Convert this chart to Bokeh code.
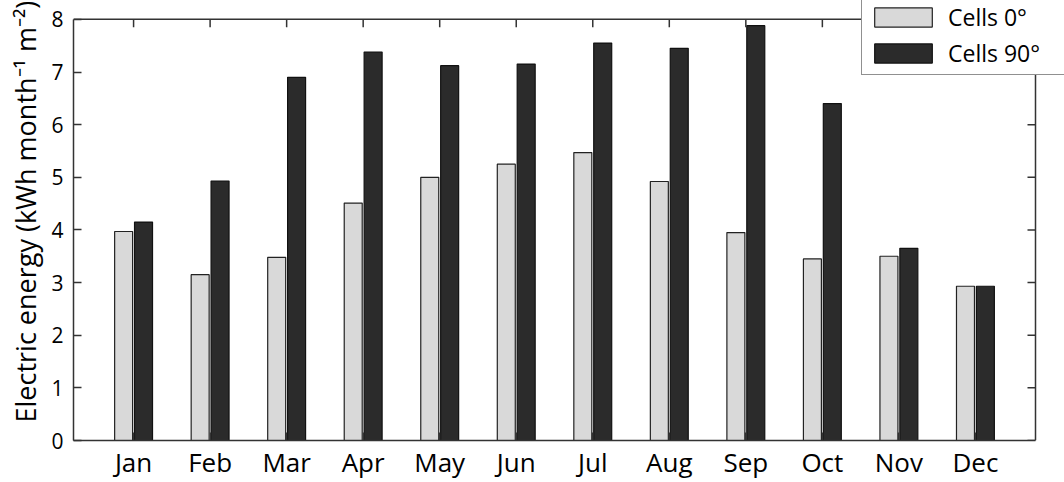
from bokeh.plotting import figure
from bokeh.models import (ColumnDataSource, Range1d, LinearAxis, FixedTicker,
                          Legend, LegendItem, Title, Span)
from bokeh.transform import dodge
from bokeh.embed import file_html
from bokeh.resources import INLINE

months = ["Jan", "Feb", "Mar", "Apr", "May", "Jun",
          "Jul", "Aug", "Sep", "Oct", "Nov", "Dec"]
month_idx = list(range(1, 13))
cells_0 = [3.97, 3.15, 3.48, 4.51, 5.00, 5.25, 5.47, 4.92, 3.95, 3.45, 3.50, 2.93]
cells_90 = [4.15, 4.93, 6.90, 7.38, 7.12, 7.15, 7.55, 7.45, 7.88, 6.40, 3.65, 2.93]
y_ticks = [0, 1, 2, 3, 4, 5, 6, 7, 8]

FONT = "Open Sans"
AX = "#333333"

# axes box (data limits) and plot geometry
X_LO, X_HI = 0.215, 12.785
Y_LO, Y_HI = 0, 8
W, H = 1064, 482
LEFT, BOTTOM = 73, 39
BOX_TOP_PX = 19          # top edge of the axes box, from canvas top
BOX_RIGHT_PX = 29        # right edge of the axes box, from canvas right
frame_w = W - LEFT
frame_h = H - BOTTOM
px_per_x = (frame_w - BOX_RIGHT_PX) / (X_HI - X_LO)
px_per_y = (frame_h - BOX_TOP_PX) / (Y_HI - Y_LO)
x_end = X_HI + BOX_RIGHT_PX / px_per_x
y_end = Y_HI + BOX_TOP_PX / px_per_y
TICK = 8
tick_dx = TICK / px_per_x
tick_dy = TICK / px_per_y

src = ColumnDataSource(dict(x=month_idx, c0=cells_0, c90=cells_90))

p = figure(width=W, height=H, output_backend="svg", toolbar_location=None,
           x_range=Range1d(X_LO, x_end), y_range=Range1d(Y_LO, y_end),
           x_axis_location=None, y_axis_location=None,
           min_border_left=LEFT, min_border_right=0,
           min_border_top=0, min_border_bottom=BOTTOM)
p.grid.visible = False
p.outline_line_color = None
p.background_fill_color = "white"
p.border_fill_color = "white"

r0 = p.vbar(x=dodge("x", -0.13, range=p.x_range), top="c0", width=0.235,
            source=src, fill_color="#d9d9d9", line_color="#222222", line_width=1.2)
r90 = p.vbar(x=dodge("x", 0.13, range=p.x_range), top="c90", width=0.235,
             source=src, fill_color="#2b2b2b", line_color="#111111", line_width=1.2)

def style(ax):
    ax.axis_line_color = AX
    ax.axis_line_width = 1.5
    ax.major_tick_line_color = AX
    ax.major_tick_line_width = 1.5
    ax.major_tick_in = TICK
    ax.major_tick_out = 0
    ax.minor_tick_line_color = None
    ax.major_label_text_font = FONT
    ax.major_label_text_color = "black"

xb = LinearAxis(ticker=FixedTicker(ticks=month_idx), bounds=(X_LO, X_HI),
                major_label_overrides={i: m for i, m in zip(month_idx, months)})
style(xb)
xb.major_label_text_font_size = "26px"
xb.major_label_standoff = 3
p.add_layout(xb, "below")

yl = LinearAxis(ticker=FixedTicker(ticks=y_ticks), bounds=(Y_LO, Y_HI))
style(yl)
yl.major_label_text_font_size = "21px"
yl.major_label_standoff = 10
p.add_layout(yl, "left")

ylabel = Title(text="Electric energy (kWh month\u207b\u00b9 m\u207b\u00b2)",
               align="left", offset=18, standoff=5, vertical_align="top",
               text_font=FONT, text_font_size="27px", text_font_style="normal",
               text_color="black")
p.add_layout(ylabel, "left")

# top and right edges of the axes box, with inward ticks
p.add_layout(Span(location=Y_HI, dimension="width", line_color=AX, line_width=1.5))
p.add_layout(Span(location=X_HI, dimension="height", line_color=AX, line_width=1.5))
p.segment(x0=month_idx, y0=[Y_HI] * len(month_idx), x1=month_idx,
          y1=[Y_HI - tick_dy] * len(month_idx), line_color=AX, line_width=1.5)
p.segment(x0=[X_HI] * len(y_ticks), y0=y_ticks, x1=[X_HI - tick_dx] * len(y_ticks),
          y1=y_ticks, line_color=AX, line_width=1.5)

legend = Legend(items=[LegendItem(label="Cells 0\u00b0", renderers=[r0]),
                       LegendItem(label="Cells 90\u00b0", renderers=[r90])],
                location=(788, frame_h - 78))
legend.label_text_font = FONT
legend.label_text_font_size = "23px"
legend.label_text_color = "black"
legend.glyph_width = 72
legend.glyph_height = 24
legend.label_standoff = 9
legend.label_width = 120
legend.padding = 5
legend.spacing = 4
legend.margin = 0
legend.border_line_color = "#222222"
legend.border_line_width = 1.5
legend.background_fill_alpha = 1.0
p.add_layout(legend, "center")

open("out.html", "w").write(file_html(p, INLINE))
